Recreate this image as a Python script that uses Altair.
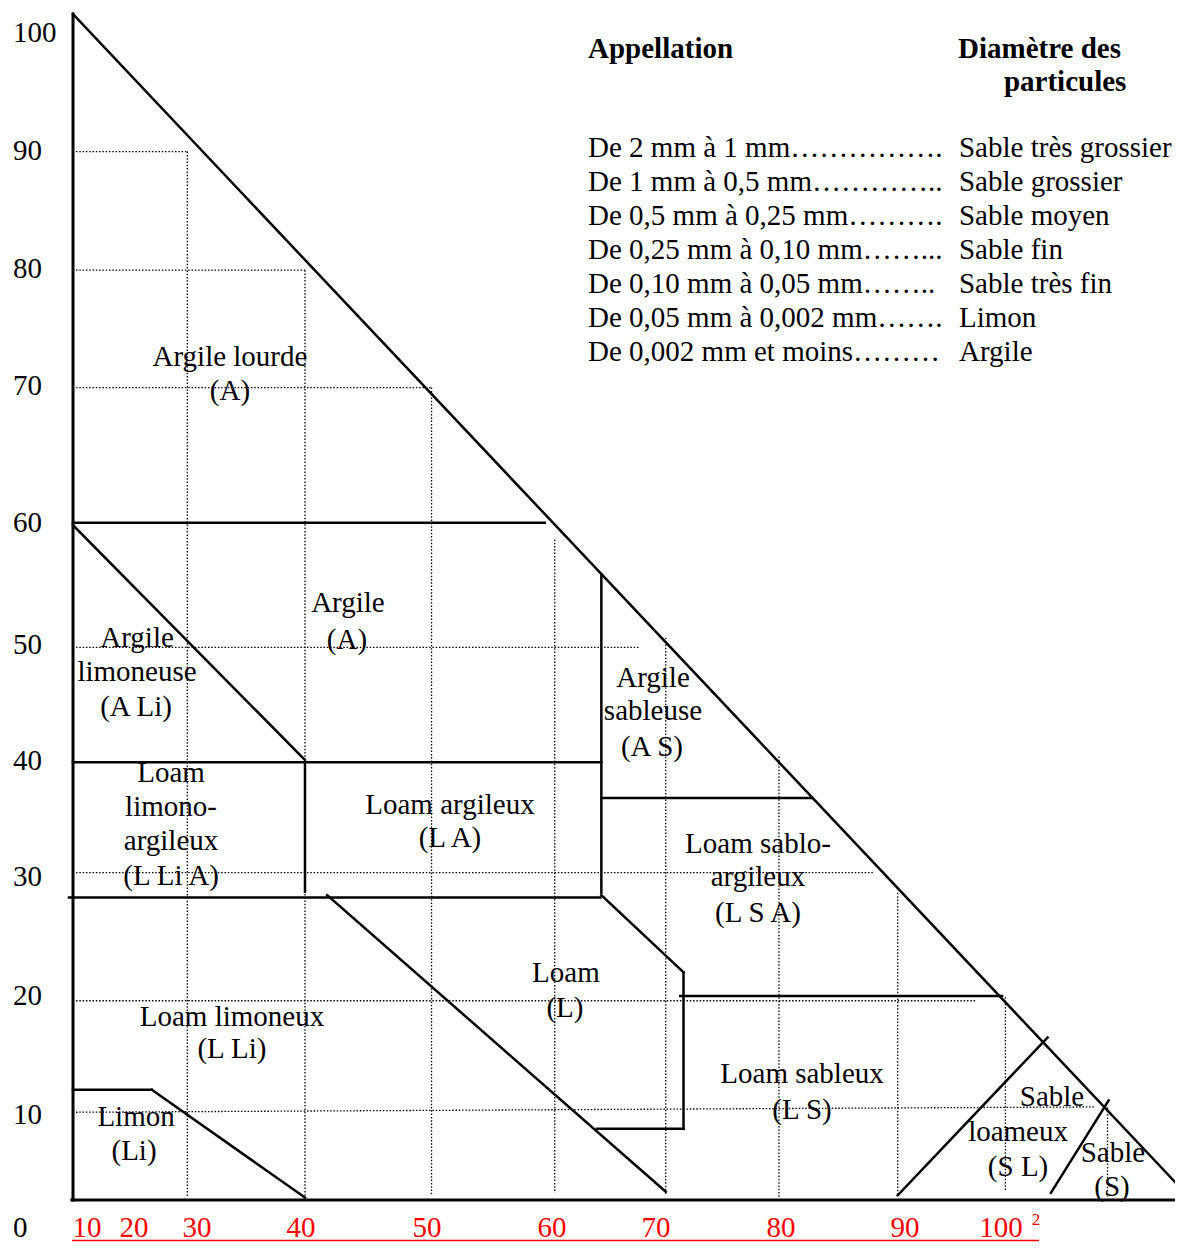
import altair as alt
import pandas as pd

# Coordinate system: x = 0 at the left edge of the triangle, 100 at its right corner;
# y = 0 on the base line, 100 at the apex.

# Dotted guide lines (x1, y1, x2, y2)
grid_x1 = [0.27, 0.27, 0.27, 0.27, 0.27, 0.27, 0.27, 10.3, 20.9, 32.3, 43.4, 53.4, 63.6, 74.3, 84.0, 93.2]
grid_y1 = [88.4, 78.4, 68.5, 46.6, 27.6, 16.8, 7.4, 88.4, 78.4, 68.5, 55.7, 47.4, 37.4, 25.9, 17.1, 7.8]
grid_x2 = [10.3, 20.9, 32.3, 51.1, 72.1, 81.3, 92.1, 10.3, 20.9, 32.3, 43.4, 53.4, 63.6, 74.3, 84.0, 93.2]
grid_y2 = [88.4, 78.4, 68.5, 46.6, 27.6, 16.8, 7.85, 0.25, 0.25, 0.4, 0.6, 0.4, 0.2, 0.4, 0.8, 0.25]

# Solid boundaries of the texture classes (x1, y1, x2, y2)
line_x1 = [0.0, -0.1, 0.0, 0.0, 0.0, 0.0, 20.9, -0.36, 47.6, 47.6, 47.6, 55.0, 47.2, 54.7, 22.9, 0.0, 7.1, 74.3, 88.1]
line_y1 = [100.0, 0.0, 100.0, 57.1, 56.9, 36.9, 36.9, 25.5, 52.7, 33.9, 25.7, 19.2, 6.0, 17.2, 25.7, 9.3, 9.3, 0.4, 0.6]
line_x2 = [0.0, 100.0, 100.0, 42.5, 20.9, 47.6, 20.9, 47.5, 47.6, 66.6, 55.0, 55.0, 55.0, 83.7, 53.4, 7.1, 20.9, 87.8, 93.3]
line_y2 = [0.0, 0.0, 0.8, 57.1, 37.1, 36.9, 26.0, 25.5, 25.9, 33.9, 19.2, 6.0, 6.0, 17.2, 0.7, 9.3, 0.2, 13.7, 8.4]
line_w = [3, 3, 2.5, 2.5, 2.5, 2.5, 2.5, 2.5, 2.5, 2.5, 2.5, 2.5, 2.5, 2.5, 2.5, 2.5, 2.5, 2.5, 2.5]

# Class names (one entry per text line)
class_text = ["Argile lourde", "(A)", "Argile", "(A)",
              "Argile", "limoneuse", "(A Li)",
              "Loam", "limono-", "argileux", "(L Li A)",
              "Loam argileux", "(L A)",
              "Argile", "sableuse", "(A S)",
              "Loam sablo-", "argileux", "(L S A)",
              "Loam", "(L)",
              "Loam limoneux", "(L Li)",
              "Limon", "(Li)",
              "Loam sableux", "(L S)",
              "Sable", "loameux", "(S L)",
              "Sable", "(S)"]
class_x = [14.14, 14.14, 24.77, 24.68,
           5.77, 5.77, 5.68,
           8.83, 8.83, 8.83, 8.83,
           33.96, 33.96,
           52.25, 52.25, 52.16,
           61.71, 61.71, 61.71,
           44.41, 44.32,
           14.32, 14.32,
           5.68, 5.50,
           65.68, 65.68,
           88.20, 85.14, 85.14,
           93.69, 93.60]
class_y = [71.1, 68.2, 50.3, 47.2,
           47.4, 44.5, 41.6,
           36.0, 33.1, 30.3, 27.3,
           33.3, 30.5,
           44.0, 41.2, 38.2,
           30.0, 27.2, 24.2,
           19.1, 16.2,
           15.4, 12.7,
           7.0, 4.1,
           10.6, 7.6,
           8.7, 5.7, 2.8,
           4.0, 1.1]

# Vertical tick labels
ytick_text = ["100", "90", "80", "70", "60", "50", "40", "30", "20", "10", "0"]
ytick_pos = [98.4, 88.45, 78.5, 68.63, 57.08, 46.8, 37.02, 27.23, 17.2, 7.17, -2.32]
ytick_x = -5.41

# Horizontal (red) tick labels
xtick_text = ["10", "20", "30", "40", "50", "60", "70", "80", "90", "100"]
xtick_pos = [1.26, 5.50, 11.17, 20.54, 31.89, 43.15, 52.52, 63.78, 74.95, 83.60]
xtick_y = -2.32
sup_text = ["2"]
sup_x = [86.76]
sup_y = [-1.7]
underline_x = [-0.09]
underline_x2 = [87.03]
underline_y = [-3.41]

# Particle size table
head_text = ["Appellation", "Diamètre des", "particules"]
head_x = [46.40, 79.73, 83.87]
head_y = [97.05, 97.05, 94.27]
range_text = ["De 2 mm à 1 mm…………….",
              "De 1 mm à 0,5 mm…………..",
              "De 0,5 mm à 0,25 mm……….",
              "De 0,25 mm à 0,10 mm……...",
              "De 0,10 mm à 0,05 mm……..",
              "De 0,05 mm à 0,002 mm…….",
              "De 0,002 mm et moins………"]
name_text = ["Sable très grossier", "Sable grossier", "Sable moyen", "Sable fin",
             "Sable très fin", "Limon", "Argile"]
row_y = [88.70, 85.83, 82.97, 80.10, 77.23, 74.37, 71.50]
range_x = 46.40
name_x = 79.82

FONT = "Liberation Serif"
# the visible part ends a little before the right corner (page width)
xs = alt.Scale(domain=[0, 99.28], nice=False, zero=False)
ys = alt.Scale(domain=[0, 100], nice=False, zero=False)

grid_df = pd.DataFrame({"x": grid_x1, "y": grid_y1, "x2": grid_x2, "y2": grid_y2})
line_df = pd.DataFrame({"x": line_x1, "y": line_y1, "x2": line_x2, "y2": line_y2, "w": line_w})
class_df = pd.DataFrame({"t": class_text, "x": class_x, "y": class_y})
ytick_df = pd.DataFrame({"t": ytick_text, "y": ytick_pos, "x": [ytick_x] * len(ytick_text)})
xtick_df = pd.DataFrame({"t": xtick_text, "x": xtick_pos, "y": [xtick_y] * len(xtick_text)})
sup_df = pd.DataFrame({"t": sup_text, "x": sup_x, "y": sup_y})
ul_df = pd.DataFrame({"x": underline_x, "x2": underline_x2, "y": underline_y})
head_df = pd.DataFrame({"t": head_text, "x": head_x, "y": head_y})
range_df = pd.DataFrame({"t": range_text, "y": row_y, "x": [range_x] * len(row_y)})
name_df = pd.DataFrame({"t": name_text, "y": row_y, "x": [name_x] * len(row_y)})

X = alt.X("x:Q", scale=xs, axis=None)
Y = alt.Y("y:Q", scale=ys, axis=None)

grid = alt.Chart(grid_df).mark_rule(color="black", strokeWidth=1.3, strokeDash=[1.5, 1.8]).encode(
    x=X, y=Y, x2="x2:Q", y2="y2:Q")

lines = alt.Chart(line_df).mark_rule(color="black", strokeCap="square").encode(
    x=X, y=Y, x2="x2:Q", y2="y2:Q",
    strokeWidth=alt.StrokeWidth("w:Q", scale=None, legend=None))

classes = alt.Chart(class_df).mark_text(font=FONT, fontSize=29, align="center", baseline="middle",
                                        color="black").encode(x=X, y=Y, text="t:N")

yticks = alt.Chart(ytick_df).mark_text(font=FONT, fontSize=29, align="left", baseline="middle",
                                       color="black").encode(x=X, y=Y, text="t:N")

xticks = alt.Chart(xtick_df).mark_text(font=FONT, fontSize=29, align="center", baseline="middle",
                                       color="#ff0000").encode(x=X, y=Y, text="t:N")

sup = alt.Chart(sup_df).mark_text(font=FONT, fontSize=17, align="center", baseline="middle",
                                  color="#ff0000").encode(x=X, y=Y, text="t:N")

underline = alt.Chart(ul_df).mark_rule(color="#ff0000", strokeWidth=1.5).encode(x=X, x2="x2:Q", y=Y)

heads = alt.Chart(head_df).mark_text(font=FONT, fontSize=29, fontWeight="bold", align="left",
                                     baseline="middle", color="black").encode(x=X, y=Y, text="t:N")

ranges = alt.Chart(range_df).mark_text(font=FONT, fontSize=29, align="left", baseline="middle",
                                       color="black").encode(x=X, y=Y, text="t:N")

names = alt.Chart(name_df).mark_text(font=FONT, fontSize=29, align="left", baseline="middle",
                                     color="black").encode(x=X, y=Y, text="t:N")

chart = alt.layer(grid, lines, classes, yticks, xticks, sup, underline, heads, ranges, names).properties(
    width=1102, height=1186,
    autosize=alt.AutoSizeParams(type="none"),
    padding={"left": 65, "top": 6, "right": 0, "bottom": 43},
    background="white",
).configure_view(stroke=None)

chart.save("out.html", embed_options={"renderer": "svg", "actions": False})
